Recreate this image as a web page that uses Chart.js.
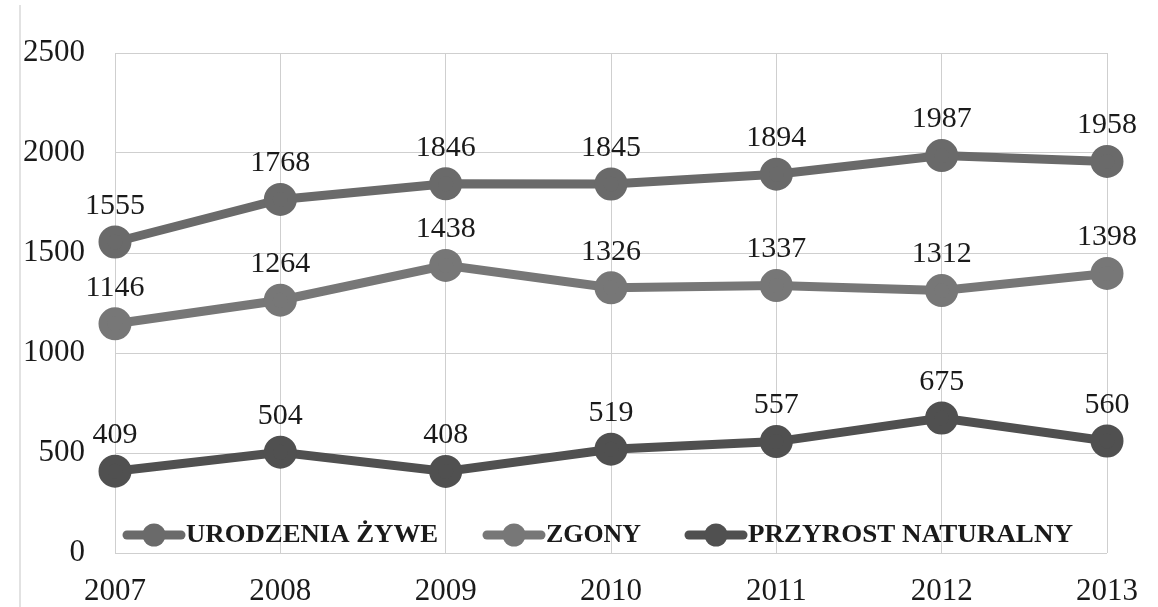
<!DOCTYPE html>
<html>
<head>
<meta charset="utf-8">
<script src="https://cdn.jsdelivr.net/npm/chart.js@4"></script>
<style>
  html, body { margin: 0; padding: 0; background: #fff; }
  #wrap { width: 1158px; height: 607px; position: relative; }
</style>
</head>
<body>
<div id="wrap"><canvas id="c" width="1158" height="607"></canvas></div>
<script>
// Years on the horizontal axis
const years = ['2007', '2008', '2009', '2010', '2011', '2012', '2013'];

// Live births, deaths and natural increase per year
const urodzenia = [1555, 1768, 1846, 1845, 1894, 1987, 1958];
const zgony = [1146, 1264, 1438, 1326, 1337, 1312, 1398];
const przyrost = [409, 504, 408, 519, 557, 675, 560];

const seriesNames = ['URODZENIA ŻYWE', 'ZGONY', 'PRZYROST NATURALNY'];
const seriesColors = ['#6a6a6a', '#777777', '#505050'];

// Y axis ticks
const yTicks = [0, 500, 1000, 1500, 2000, 2500];

const serif = '"Liberation Serif", "Times New Roman", serif';

function makeSet(i, data) {
  return {
    label: seriesNames[i],
    data: data,
    borderColor: seriesColors[i],
    backgroundColor: seriesColors[i],
    pointBackgroundColor: seriesColors[i],
    pointBorderColor: seriesColors[i],
    borderWidth: 9,
    pointRadius: 12,
    pointHoverRadius: 12,
    tension: 0
  };
}

// Value labels above each point
const valueLabels = {
  id: 'valueLabels',
  afterDatasetsDraw(chart) {
    const ctx = chart.ctx;
    ctx.save();
    ctx.font = '30px ' + serif;
    ctx.fillStyle = '#1a1a1a';
    ctx.textAlign = 'center';
    ctx.textBaseline = 'middle';
    chart.data.datasets.forEach((ds, di) => {
      const meta = chart.getDatasetMeta(di);
      meta.data.forEach((pt, i) => {
        ctx.fillText(String(ds.data[i]), pt.x, pt.y - 36);
      });
    });
    ctx.restore();
  }
};

// Legend drawn inside the plot, along its bottom edge
const innerLegend = {
  id: 'innerLegend',
  afterDatasetsDraw(chart) {
    const ctx = chart.ctx;
    const y = chart.chartArea.bottom - 18;
    const starts = [123, 483, 685];
    const widths = [252, 95, 325];
    const markLen = 62;
    chart.data.datasets.forEach((ds, i) => {
      const x0 = starts[i];
      ctx.save();
      ctx.strokeStyle = ds.borderColor;
      ctx.lineWidth = 9;
      ctx.lineCap = 'round';
      ctx.beginPath();
      ctx.moveTo(x0 + 4, y);
      ctx.lineTo(x0 + markLen - 4, y);
      ctx.stroke();
      ctx.fillStyle = ds.borderColor;
      ctx.beginPath();
      ctx.arc(x0 + markLen / 2, y, 11.5, 0, Math.PI * 2);
      ctx.fill();
      ctx.font = 'bold 25px ' + serif;
      ctx.fillStyle = '#1a1a1a';
      ctx.textAlign = 'left';
      ctx.textBaseline = 'middle';
      const text = ds.label;
      const w = ctx.measureText(text).width;
      const sx = widths[i] / w;
      ctx.translate(x0 + markLen + 1, y + 1);
      ctx.scale(sx, 1);
      ctx.fillText(text, 0, 0);
      ctx.restore();
    });
  }
};

// Thin frame line at the left edge of the figure
const frameLine = {
  id: 'frameLine',
  beforeDraw(chart) {
    const ctx = chart.ctx;
    ctx.save();
    ctx.strokeStyle = '#d8d8d8';
    ctx.lineWidth = 1.5;
    ctx.beginPath();
    ctx.moveTo(20, 5);
    ctx.lineTo(20, 607);
    ctx.stroke();
    ctx.restore();
  }
};

new Chart(document.getElementById('c'), {
  type: 'line',
  data: {
    labels: years,
    datasets: [makeSet(0, urodzenia), makeSet(1, zgony), makeSet(2, przyrost)]
  },
  options: {
    responsive: false,
    animation: false,
    layout: { padding: { top: 53, right: 41, left: 0, bottom: 0 } },
    plugins: {
      legend: { display: false },
      tooltip: { enabled: false }
    },
    scales: {
      x: {
        offset: false,
        grid: { color: '#cfcfcf', lineWidth: 1, drawTicks: false },
        border: { display: false },
        ticks: {
          font: { family: serif, size: 31 },
          color: '#1a1a1a',
          padding: 20,
          maxRotation: 0,
          autoSkip: false
        },
        afterFit(scale) { scale.height = 54; }
      },
      y: {
        min: yTicks[0],
        max: yTicks[yTicks.length - 1],
        grid: { color: '#cfcfcf', lineWidth: 1, drawTicks: false },
        border: { display: false },
        afterBuildTicks(scale) { scale.ticks = yTicks.map(v => ({ value: v })); },
        ticks: {
          font: { family: serif, size: 31 },
          color: '#1a1a1a',
          padding: 30,
          callback: (v) => String(v)
        },
        afterFit(scale) { scale.width = 115; }
      }
    }
  },
  plugins: [frameLine, valueLabels, innerLegend]
});
</script>
</body>
</html>
